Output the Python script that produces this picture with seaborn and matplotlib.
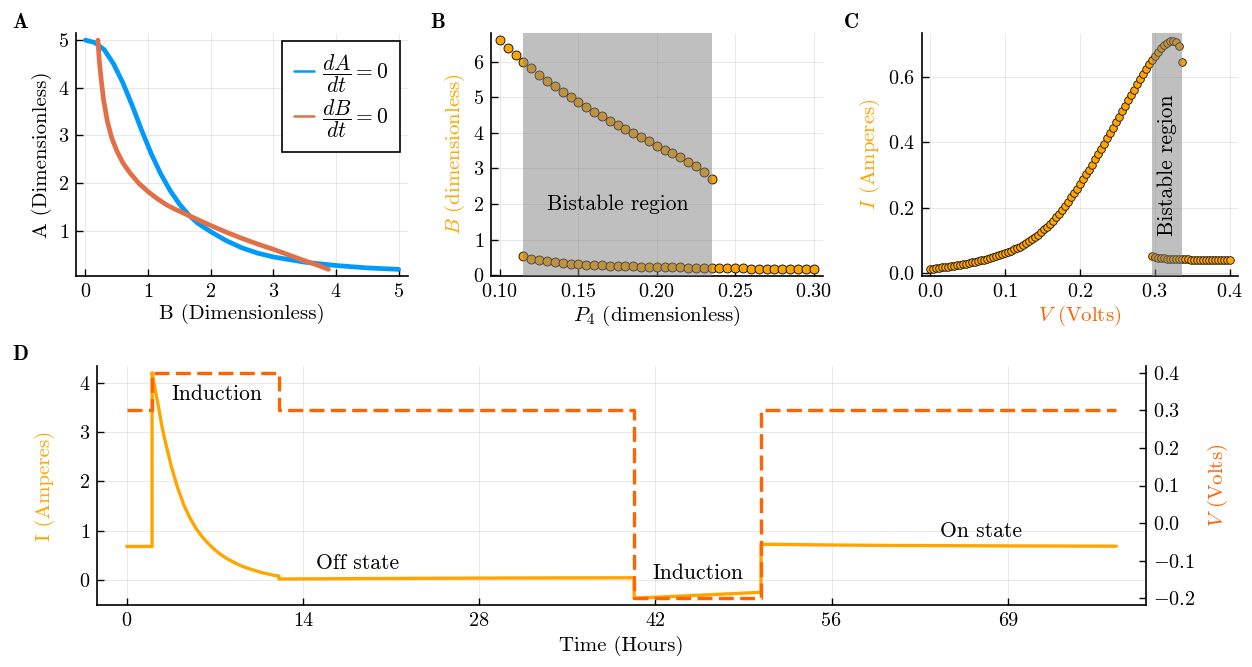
import matplotlib
matplotlib.use("Agg")
import matplotlib.pyplot as plt
import seaborn as sns
import pandas as pd

# ---------------- data ----------------
# Panel A: nullclines
A_NULL_B = [0.0, 0.15, 0.3, 0.45, 0.6, 0.75, 0.9, 1.05, 1.2, 1.35, 1.5, 1.65, 1.8, 2.0,
            2.25, 2.5, 2.75, 3.0, 3.5, 4.0, 4.5, 5.0]
A_NULL_A = [5.00, 4.95, 4.80, 4.50, 4.10, 3.62, 3.10, 2.62, 2.20, 1.85, 1.56, 1.33, 1.15, 0.98,
            0.79, 0.64, 0.53, 0.45, 0.34, 0.27, 0.22, 0.19]
B_NULL_B = [0.20, 0.22, 0.25, 0.29, 0.35, 0.42, 0.50, 0.60, 0.72, 0.85, 1.00, 1.15, 1.30, 1.45,
            1.65, 1.85, 2.00, 2.25, 2.50, 2.75, 3.00, 3.25, 3.50, 3.70, 3.88]
B_NULL_A = [5.00, 4.60, 4.20, 3.75, 3.30, 2.95, 2.68, 2.42, 2.20, 2.00, 1.82, 1.67, 1.54, 1.44,
            1.32, 1.20, 1.11, 0.97, 0.84, 0.72, 0.61, 0.49, 0.37, 0.28, 0.19]

# Panel B: bifurcation in P4
P4_UPPER = [0.100, 0.105, 0.110, 0.115, 0.120, 0.125, 0.130, 0.135, 0.140, 0.145, 0.150, 0.155,
            0.160, 0.165, 0.170, 0.175, 0.180, 0.185, 0.190, 0.195, 0.200, 0.205, 0.210, 0.215,
            0.220, 0.225, 0.230, 0.235]
B_UPPER = [6.61, 6.39, 6.18, 6.00, 5.81, 5.62, 5.46, 5.30, 5.15, 5.00, 4.87, 4.73,
           4.59, 4.47, 4.34, 4.22, 4.11, 3.99, 3.88, 3.77, 3.64, 3.53, 3.42, 3.31,
           3.18, 3.06, 2.91, 2.71]
P4_LOWER = [0.115, 0.120, 0.125, 0.130, 0.135, 0.140, 0.145, 0.150, 0.155, 0.160, 0.165, 0.170,
            0.175, 0.180, 0.185, 0.190, 0.195, 0.200, 0.205, 0.210, 0.215, 0.220, 0.225, 0.230,
            0.235, 0.240, 0.245, 0.250, 0.255, 0.260, 0.265, 0.270, 0.275, 0.280, 0.285, 0.290,
            0.295, 0.300]
B_LOWER = [0.53, 0.46, 0.42, 0.395, 0.37, 0.35, 0.33, 0.315, 0.30, 0.29, 0.28, 0.27,
           0.265, 0.26, 0.25, 0.245, 0.24, 0.235, 0.23, 0.225, 0.22, 0.215, 0.21, 0.21,
           0.205, 0.20, 0.20, 0.195, 0.195, 0.19, 0.19, 0.185, 0.185, 0.18, 0.18, 0.18,
           0.175, 0.175]
B_SPAN = [0.115, 0.235]

# Panel C: I-V characteristic
V_UPPER = [0.000, 0.004, 0.008, 0.012, 0.016, 0.020, 0.024, 0.028, 0.032, 0.036, 0.040, 0.044,
           0.048, 0.052, 0.056, 0.060, 0.064, 0.068, 0.072, 0.076, 0.080, 0.084, 0.088, 0.092,
           0.096, 0.100, 0.104, 0.108, 0.112, 0.116, 0.120, 0.124, 0.128, 0.132, 0.136, 0.140,
           0.144, 0.148, 0.152, 0.156, 0.160, 0.164, 0.168, 0.172, 0.176, 0.180, 0.184, 0.188,
           0.192, 0.196, 0.200, 0.204, 0.208, 0.212, 0.216, 0.220, 0.224, 0.228, 0.232, 0.236,
           0.240, 0.244, 0.248, 0.252, 0.256, 0.260, 0.264, 0.268, 0.272, 0.276, 0.280, 0.284,
           0.288, 0.292, 0.296, 0.300, 0.304, 0.308, 0.312, 0.316, 0.320, 0.324, 0.328, 0.332,
           0.336]
I_UPPER = [0.012, 0.013, 0.014, 0.015, 0.017, 0.018, 0.019, 0.021, 0.022, 0.024, 0.026, 0.027,
           0.029, 0.031, 0.033, 0.035, 0.037, 0.039, 0.041, 0.044, 0.046, 0.049, 0.051, 0.054,
           0.057, 0.060, 0.064, 0.068, 0.072, 0.076, 0.081, 0.086, 0.091, 0.097, 0.103, 0.110,
           0.117, 0.125, 0.133, 0.141, 0.150, 0.160, 0.170, 0.181, 0.193, 0.205, 0.218, 0.231,
           0.244, 0.258, 0.272, 0.286, 0.301, 0.316, 0.331, 0.347, 0.363, 0.379, 0.395, 0.411,
           0.428, 0.444, 0.461, 0.478, 0.494, 0.511, 0.527, 0.544, 0.560, 0.576, 0.592, 0.607,
           0.622, 0.637, 0.651, 0.664, 0.676, 0.687, 0.696, 0.703, 0.708, 0.710, 0.706, 0.692,
           0.644]
V_LOWER = [0.296, 0.300, 0.304, 0.308, 0.312, 0.316, 0.320, 0.324, 0.328, 0.332, 0.336, 0.340,
           0.344, 0.348, 0.352, 0.356, 0.360, 0.364, 0.368, 0.372, 0.376, 0.380, 0.384, 0.388,
           0.392, 0.396, 0.400]
I_LOWER = [0.053, 0.049, 0.047, 0.046, 0.045, 0.044, 0.044, 0.043, 0.043, 0.042, 0.042, 0.042,
           0.042, 0.041, 0.041, 0.041, 0.041, 0.041, 0.041, 0.040, 0.040, 0.040, 0.040, 0.040,
           0.040, 0.040, 0.040]
C_SPAN = [0.296, 0.336]

# Panel D: time course
T_I = [0, 2.0, 2.0, 2.25, 2.5, 2.75, 3.0, 3.5, 4.0, 4.5, 5.0, 5.5, 6.0, 6.5, 7.0, 7.5, 8.0,
       8.5, 9.0, 9.5, 10.0, 10.5, 11.0, 11.5, 12.0, 12.0, 20, 30, 40, 40, 45, 50, 50, 55, 60,
       70, 78]
I_AMPS = [0.68, 0.68, 4.20, 3.85, 3.52, 3.15, 2.85, 2.32, 1.88, 1.52, 1.25, 1.03, 0.86, 0.72,
          0.60, 0.50, 0.42, 0.35, 0.29, 0.24, 0.20, 0.16, 0.13, 0.10, 0.08, 0.02, 0.03, 0.04,
          0.045, -0.37, -0.31, -0.25, 0.725, 0.71, 0.70, 0.69, 0.685]
T_V = [0, 2, 2, 12, 12, 40, 40, 50, 50, 78]
V_VOLTS = [0.3, 0.3, 0.4, 0.4, 0.3, 0.3, -0.2, -0.2, 0.3, 0.3]
D_XTICKS = [0.0, 13.889, 27.778, 41.667, 55.556, 69.444]
D_XTICKLABELS = ["0", "14", "28", "42", "56", "69"]
D_ANNOT = [("Induction", 7.1, 3.76), ("Off state", 18.2, 0.33),
           ("Induction", 45.0, 0.13), ("On state", 67.3, 0.99)]

# ---------------- style ----------------
sns.set_theme(style="ticks")
plt.rcParams.update({
    "font.family": ["cmr10", "DejaVu Serif"],
    "mathtext.fontset": "cm",
    "axes.formatter.use_mathtext": True,
    "text.color": "black",
    "axes.labelcolor": "black",
    "xtick.color": "black",
    "ytick.color": "black",
    "axes.edgecolor": "black",
})

BLUE = "#009AFA"
RUST = "#E26F46"
ORANGE = "#FFA500"
VRED = "#FF6400"
TICK_FS = 14.5
LAB_FS = 15

W, H = 1252, 667
fig = plt.figure(figsize=(W / 100, H / 100), dpi=100)
axA = fig.add_axes([76 / W, 1 - 276 / H, 332 / W, 243 / H])
axB = fig.add_axes([491 / W, 1 - 276 / H, 332 / W, 243 / H])
axC = fig.add_axes([922 / W, 1 - 276 / H, 316 / W, 243 / H])
axD = fig.add_axes([97 / W, 1 - 605 / H, 1049 / W, 239 / H])


def style(ax, right=False):
    for s in ["top", "right", "left", "bottom"]:
        ax.spines[s].set_visible(False)
    if right:
        ax.spines["right"].set_visible(True)
        ax.spines["right"].set_linewidth(1.2)
    else:
        ax.spines["left"].set_visible(True)
        ax.spines["bottom"].set_visible(True)
        ax.spines["left"].set_linewidth(1.2)
        ax.spines["bottom"].set_linewidth(1.2)
    ax.tick_params(direction="in", length=5, width=1.0, labelsize=TICK_FS, pad=5)


def mlabels(vals, fmt):
    return ["$" + format(v, fmt) + "$" for v in vals]


# ---------------- Panel A ----------------
dfA1 = pd.DataFrame({"B": A_NULL_B, "A": A_NULL_A})
dfA2 = pd.DataFrame({"B": B_NULL_B, "A": B_NULL_A})
sns.lineplot(data=dfA1, x="B", y="A", ax=axA, color=BLUE, linewidth=3.4, sort=False,
             estimator=None, label=r"$\dfrac{dA}{dt} = 0$")
sns.lineplot(data=dfA2, x="B", y="A", ax=axA, color=RUST, linewidth=3.4, sort=False,
             estimator=None, label=r"$\dfrac{dB}{dt} = 0$")
style(axA)
axA.grid(True, color="black", alpha=0.1, linewidth=0.6)
axA.set_xlim(-0.15, 5.15)
axA.set_ylim(0.05, 5.15)
xt = [0, 1, 2, 3, 4, 5]
yt = [1, 2, 3, 4, 5]
axA.set_xticks(xt, mlabels(xt, "d"))
axA.set_yticks(yt, mlabels(yt, "d"))
axA.set_xlabel("B (Dimensionless)", fontsize=LAB_FS, labelpad=2)
axA.set_ylabel("A (Dimensionless)", fontsize=LAB_FS, labelpad=4)
leg = axA.legend(loc="upper right", frameon=True, fancybox=False, edgecolor="black",
                 framealpha=1, handlelength=0.9, fontsize=15.5, borderaxespad=0.35,
                 labelspacing=0.1, handletextpad=0.4, borderpad=0.55)
leg.get_frame().set_linewidth(1.2)
for h in leg.get_lines():
    h.set_linewidth(1.8)

# ---------------- Panel B ----------------
sns.scatterplot(x=P4_UPPER, y=B_UPPER, ax=axB, color=ORANGE, edgecolor="black",
                linewidth=0.6, s=42, zorder=2)
sns.scatterplot(x=P4_LOWER, y=B_LOWER, ax=axB, color=ORANGE, edgecolor="black",
                linewidth=0.6, s=42, zorder=2)
axB.axvspan(B_SPAN[0], B_SPAN[1], color="gray", alpha=0.5, linewidth=0, zorder=3)
axB.text(0.175, 2.0, "Bistable region", ha="center", va="center", fontsize=15.5, zorder=4)
style(axB)
axB.grid(True, color="black", alpha=0.1, linewidth=0.6)
axB.set_xlim(0.0943, 0.306)
axB.set_ylim(-0.02, 6.80)
xt = [0.10, 0.15, 0.20, 0.25, 0.30]
yt = [0, 1, 2, 3, 4, 5, 6]
axB.set_xticks(xt, mlabels(xt, ".2f"))
axB.set_yticks(yt, mlabels(yt, "d"))
axB.set_xlabel(r"$P_4$ (dimensionless)", fontsize=LAB_FS, labelpad=2)
axB.set_ylabel(r"$B$ (dimensionless)", fontsize=LAB_FS, color=ORANGE, labelpad=4)

# ---------------- Panel C ----------------
sns.scatterplot(x=V_UPPER, y=I_UPPER, ax=axC, color=ORANGE, edgecolor="black",
                linewidth=0.55, s=30, zorder=2)
sns.scatterplot(x=V_LOWER, y=I_LOWER, ax=axC, color=ORANGE, edgecolor="black",
                linewidth=0.55, s=30, zorder=2)
axC.axvspan(C_SPAN[0], C_SPAN[1], color="gray", alpha=0.5, linewidth=0, zorder=3)
axC.text(0.316, 0.33, "Bistable region", ha="center", va="center", rotation=90,
         fontsize=15.5, zorder=4)
style(axC)
axC.grid(True, color="black", alpha=0.1, linewidth=0.6)
axC.set_xlim(-0.011, 0.411)
axC.set_ylim(-0.009, 0.733)
xt = [0.0, 0.1, 0.2, 0.3, 0.4]
yt = [0.0, 0.2, 0.4, 0.6]
axC.set_xticks(xt, mlabels(xt, ".1f"))
axC.set_yticks(yt, mlabels(yt, ".1f"))
axC.set_xlabel(r"$V$ (Volts)", fontsize=LAB_FS, color=VRED, labelpad=2)
axC.set_ylabel(r"$I$ (Amperes)", fontsize=LAB_FS, color=ORANGE, labelpad=4)

# ---------------- Panel D ----------------
dfI = pd.DataFrame({"t": T_I, "I": I_AMPS})
dfV = pd.DataFrame({"t": T_V, "V": V_VOLTS})
sns.lineplot(data=dfI, x="t", y="I", ax=axD, color=ORANGE, linewidth=2.4, sort=False,
             estimator=None)
style(axD)
axD.grid(True, color="black", alpha=0.1, linewidth=0.6)
axD.set_xlim(-2.34, 80.34)
axD.set_ylim(-0.507, 4.337)
yt = [0, 1, 2, 3, 4]
axD.set_xticks(D_XTICKS, D_XTICKLABELS)
axD.set_yticks(yt, mlabels(yt, "d"))
axD.set_xlabel("Time (Hours)", fontsize=LAB_FS, labelpad=4)
axD.set_ylabel("I (Amperes)", fontsize=LAB_FS, color=ORANGE, labelpad=17)
for txt, tx, ty in D_ANNOT:
    axD.text(tx, ty, txt, ha="center", va="center", fontsize=15.5, zorder=5)

axD2 = axD.twinx()
sns.lineplot(data=dfV, x="t", y="V", ax=axD2, color=VRED, linewidth=2.4, sort=False,
             estimator=None, linestyle=(0, (4.5, 1.9)))
style(axD2, right=True)
axD2.grid(False)
axD2.set_ylim(-0.218, 0.418)
vt = [0.4, 0.3, 0.2, 0.1, 0.0, -0.1, -0.2]
axD2.set_yticks(vt, mlabels(vt, ".1f"))
axD2.set_ylabel(r"$V$ (Volts)", fontsize=LAB_FS, color=VRED, labelpad=8)
axD2.set_xlim(-2.34, 80.34)

# panel letters
for letter, px, py in [("A", 20, 22), ("B", 438, 22), ("C", 851, 22), ("D", 20, 355)]:
    fig.text(px / W, 1 - py / H, r"$\mathbf{" + letter + "}$", fontsize=15,
             ha="center", va="center")

fig.savefig("out.png", dpi=100)
